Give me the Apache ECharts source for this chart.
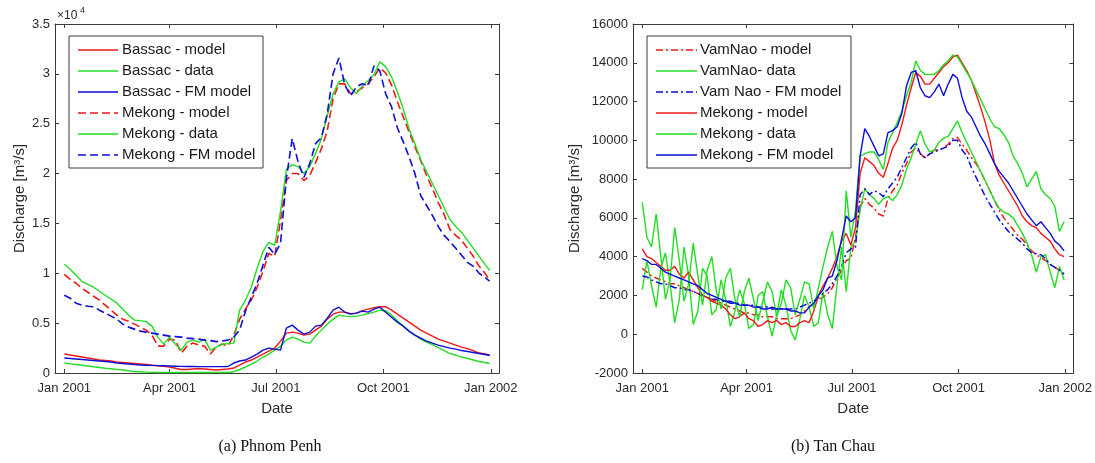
<!DOCTYPE html>
<html>
<head>
<meta charset="utf-8">
<script src="https://cdn.jsdelivr.net/npm/echarts@6/dist/echarts.min.js"></script>
<style>
  html, body { margin: 0; padding: 0; background: #ffffff; }
  #chart { width: 1095px; height: 463px; }
</style>
</head>
<body>
<div id="chart"></div>
<script>
// ---- date ticks shared by both panels ----
const tickDates = ['2001-01-01', '2001-04-01', '2001-07-01', '2001-10-01', '2002-01-01'];
const tickLabels = ['Jan 2001', 'Apr 2001', 'Jul 2001', 'Oct 2001', 'Jan 2002'];

// ---- (a) Phnom Penh: day of year (from 1 Jan 2001) and discharge, m3/s ----
const daysPP = [0,5,10,15,20,25,30,35,40,45,50,55,60,65,70,75,80,85,90,95,
  100,105,110,115,120,125,130,135,140,145,150,155,160,165,170,175,180,185,190,195,
  200,205,210,215,220,225,230,235,240,245,250,255,260,265,270,275,280,285,290,295,
  300,305,310,315,320,325,330,335,340,345,350,355,360,364];

const bassacModel = [1900,1800,1700,1600,1500,1400,1300,1250,1200,1100,
  1050,1000,950,900,850,780,720,660,600,480,
  350,350,400,450,400,350,300,350,400,500,
  800,1100,1300,1600,1900,2200,2500,3200,4000,4100,
  4000,3800,3900,4300,4700,5400,5900,6100,6100,5950,
  6000,6250,6400,6550,6650,6650,6300,5900,5500,5100,
  4700,4300,4000,3700,3400,3200,3000,2800,2600,2450,
  2250,2000,1900,1800];

const bassacData = [1000,920,850,780,700,620,550,480,420,360,
  300,230,150,120,90,60,50,50,50,50,
  50,50,50,50,50,50,50,50,50,130,
  350,600,900,1200,1600,1900,2300,2700,3300,3600,
  3400,3100,3000,3700,4300,4900,5400,5800,5700,5650,
  5700,5800,5950,6100,6300,6250,5800,5250,4700,4200,
  3800,3400,3100,2850,2550,2250,1950,1800,1600,1450,
  1300,1150,1050,950];

const bassacFM = [1500,1450,1400,1350,1300,1250,1200,1150,1100,1000,
  950,900,850,800,780,760,740,720,700,680,
  660,650,650,640,640,640,640,640,650,1000,
  1200,1300,1600,1900,2300,2500,2400,2300,4500,4800,
  4300,3900,4100,4700,4800,5500,6300,6600,6100,5900,
  6000,6200,6100,6400,6600,6100,5600,5100,4700,4200,
  3800,3500,3200,3000,2800,2650,2500,2400,2250,2150,
  2050,1950,1850,1750];

const mekongModelPP = [9900,9400,9000,8500,8100,7700,7300,6800,6300,5800,
  5400,5200,4900,4600,4300,3800,2700,2700,3400,3300,
  2000,2700,3000,2800,2700,1900,2600,2900,2700,3800,
  5400,6400,7300,8600,10200,12000,11700,15300,19300,20000,
  20000,19300,19800,21100,22500,24300,27500,29000,29000,28000,
  28200,28600,29000,29700,30600,30100,28900,27200,25700,24200,
  22700,21300,19800,18500,17100,15900,14400,13800,13300,12500,
  11700,10700,10000,9300];

const mekongDataPP = [10900,10400,9800,9200,8900,8600,8200,7800,7400,7000,
  6400,5800,5300,5250,5150,4700,3600,2900,3600,2900,
  2300,3100,3300,3100,3400,2300,2600,2900,2950,3000,
  6300,7300,8600,10500,12200,13100,12800,16200,20400,20900,
  20700,20000,20700,22000,23500,25800,28000,29200,29500,28600,
  28000,28800,29300,29900,31200,30700,29700,28200,26500,24500,
  23000,21400,20200,19000,17800,16600,15400,14700,14100,13300,
  12500,11700,10900,10300];

const mekongFMPP = [7800,7500,7000,6800,6700,6650,6300,6000,5700,5400,
  4900,4600,4400,4200,4100,4000,3900,3800,3700,3650,
  3600,3500,3450,3400,3300,3250,3150,3200,3300,3600,
  4300,6200,7600,9000,10800,12600,11900,13000,19500,23500,
  21200,19600,21000,23000,23600,26000,30000,31600,28900,27800,
  28700,29000,28800,30800,30300,28000,26700,24600,23200,21700,
  20000,17800,16800,15800,14700,13800,13200,12500,11800,11100,
  10700,10000,9600,9200];

const namesPP = ['Bassac - model', 'Bassac - data', 'Bassac - FM model',
  'Mekong - model', 'Mekong - data', 'Mekong - FM model'];

// ---- (b) Tan Chau: day of year and discharge, m3/s ----
const daysTC = [0,4,8,12,16,20,24,28,32,36,40,44,48,52,56,60,64,68,72,76,
  80,84,88,92,96,100,104,108,112,116,120,124,128,132,136,140,144,148,152,156,
  160,164,168,172,176,180,184,188,192,196,200,204,208,212,216,220,224,228,232,236,
  240,244,248,252,256,260,264,268,272,276,280,284,288,292,296,300,304,308,312,316,
  320,324,328,332,336,340,344,348,352,356,360,364];

const vamNaoModel = [3400,3200,3000,2900,2800,2700,2600,2600,2500,2400,
  2300,2200,2100,2000,1900,1800,1700,1600,1500,1400,
  1300,1200,1100,1100,1000,1000,900,900,900,800,
  800,800,800,900,1000,1200,1400,1600,1800,1900,
  2100,2400,2900,3300,3800,3900,5000,6600,7000,6700,
  6500,6200,6100,7000,7400,7700,8300,8800,9400,9600,
  9300,9100,9300,9500,9500,9600,9800,10100,10150,9800,
  9500,9100,8800,8400,7900,7400,6900,6400,6000,5700,
  5400,5100,4900,4600,4300,4100,3950,3800,3600,3450,
  3300,3100];

const vamNaoData = [2300,3800,2500,1400,3400,4200,2600,600,1800,4500,
  3000,500,1200,3400,3000,1000,1300,2800,1800,400,
  1200,2300,1600,300,500,2000,2200,900,-100,1000,
  2300,1500,200,-300,800,2000,1400,400,600,2200,
  1000,300,2500,4500,2200,4500,4800,6400,7500,7200,
  7000,6700,7000,7100,6900,7200,7700,8500,9100,9800,
  10500,9800,9400,9500,9900,10100,10200,10600,11000,10400,
  9900,9400,8900,8400,7900,7400,6900,6500,6300,6200,
  6000,5600,5200,4700,4100,3200,4000,4100,3200,2400,
  3500,2800];

const vamNaoFM = [3000,2950,2800,2700,2600,2600,2500,2400,2400,2300,
  2300,2200,2100,2000,1900,1800,1800,1700,1700,1600,
  1600,1600,1500,1500,1500,1400,1400,1400,1300,1300,
  1300,1300,1300,1300,1400,1500,1600,1700,1900,2100,
  2300,2600,3000,3500,4200,4400,4500,7200,7500,7200,
  7400,7300,7100,7500,7800,8100,8600,9100,9600,9900,
  9300,9100,9300,9400,9500,9600,9700,10000,10000,9500,
  9200,8600,8100,7600,7100,6700,6300,5900,5600,5300,
  5100,4900,4700,4400,4200,4150,4100,3900,3600,3450,
  3300,3100];

const mekongModelTC = [4400,4000,3900,3700,3500,3300,3300,3500,3100,2900,
  3200,2800,2400,2000,1900,1700,1600,1500,1300,1000,
  800,900,1100,800,700,400,500,700,600,700,
  500,600,400,400,600,700,600,1200,2000,2500,
  2900,3400,4000,4800,5200,4600,5500,8300,9100,8900,
  8700,8300,8100,8800,9600,10000,10800,11800,12700,13500,
  13300,12900,12900,13200,13500,13800,14000,14300,14400,14000,
  13600,13100,12400,11700,10900,10000,8800,8200,7800,7400,
  7000,6600,6100,5800,5600,5500,5200,5000,4800,4400,
  4100,4000];

const mekongDataTC = [6800,5000,4500,6200,4000,1800,2800,5500,3800,1700,
  2600,4700,3000,1500,3300,4000,2200,1300,2900,3400,
  1800,900,2200,2900,1800,700,1700,2700,2200,900,
  1600,2800,2400,1000,1800,2700,2600,1300,2400,3500,
  4500,5300,3500,2800,7400,5000,6400,9200,9300,9400,
  9400,9000,8500,9900,10400,10900,11500,12300,13000,14100,
  13600,13400,13400,13400,13600,13900,14100,14400,14300,13900,
  13500,13100,12600,12100,11600,11100,10700,10600,10300,9900,
  9200,8800,8300,7600,8000,8400,7500,7200,7000,6600,
  5300,5800];

const mekongFMTC = [3900,3800,3600,3600,3400,3200,3100,3000,2900,2800,
  2700,2600,2500,2300,2100,2000,1900,1800,1700,1700,
  1600,1500,1500,1500,1400,1400,1300,1300,1400,1300,
  1300,1300,1200,1200,1100,1100,1400,1600,2000,2300,
  2900,3000,3800,4900,6100,5800,6000,9200,10600,10200,
  9700,9200,9300,10400,10500,10700,11400,12800,13500,13600,
  12700,12300,12200,12500,12900,12300,12900,13400,13200,12200,
  11500,11200,10700,10200,9800,9300,8800,8400,8100,7800,
  7400,7000,6600,6200,5900,5600,5800,5500,5200,4800,
  4600,4300];

const namesTC = ['VamNao - model', 'VamNao- data', 'Vam Nao - FM model',
  'Mekong - model', 'Mekong - data', 'Mekong - FM model'];

// ---- styling ----
const RED = '#f01818', GREEN = '#22dd22', BLUE = '#0d0dd8';
const AXIS = '#3a3a3a', TEXT = '#2a2a2a';
const SANS = '"Liberation Sans", Arial, sans-serif';
const DASH = [8, 4], DASHDOT = [7, 3, 2, 3];

const stylesPP = [
  { color: RED, dash: 'solid', width: 1.4 },
  { color: GREEN, dash: 'solid', width: 1.4 },
  { color: BLUE, dash: 'solid', width: 1.4 },
  { color: RED, dash: DASH, width: 1.6 },
  { color: GREEN, dash: 'solid', width: 1.4 },
  { color: BLUE, dash: DASH, width: 1.6 }
];
const stylesTC = [
  { color: RED, dash: DASHDOT, width: 1.5 },
  { color: GREEN, dash: 'solid', width: 1.4 },
  { color: BLUE, dash: DASHDOT, width: 1.5 },
  { color: RED, dash: 'solid', width: 1.4 },
  { color: GREEN, dash: 'solid', width: 1.4 },
  { color: BLUE, dash: 'solid', width: 1.4 }
];

const dayOf = s => (Date.parse(s) - Date.parse('2001-01-01')) / 86400000;
const tickDays = tickDates.map(dayOf);

function pairs(days, vals) { return days.map((d, i) => [d, vals[i]]); }

function xAxesFor(grid) {
  const base = {
    type: 'value', gridIndex: grid, min: -8, max: 372,
    splitLine: { show: false },
    axisLine: { show: true, onZero: false, lineStyle: { color: AXIS, width: 1 } },
    axisTick: { show: true, inside: true, length: 4, customValues: tickDays, lineStyle: { color: AXIS } }
  };
  return [
    Object.assign({}, base, {
      position: 'bottom',
      axisLabel: {
        customValues: tickDays, color: TEXT, fontFamily: SANS, fontSize: 13, margin: 9,
        formatter: v => { const k = tickDays.indexOf(v); return k >= 0 ? tickLabels[k] : ''; }
      },
      name: 'Date', nameLocation: 'middle', nameGap: 28,
      nameTextStyle: { color: TEXT, fontFamily: SANS, fontSize: 15 }
    }),
    Object.assign({}, base, { position: 'top', axisLabel: { show: false } })
  ];
}

function yAxesFor(grid, min, max, step, fmt, nameGap) {
  const base = {
    type: 'value', gridIndex: grid, min: min, max: max, interval: step,
    splitLine: { show: false },
    axisLine: { show: true, onZero: false, lineStyle: { color: AXIS, width: 1 } },
    axisTick: { show: true, inside: true, length: 4, lineStyle: { color: AXIS } }
  };
  return [
    Object.assign({}, base, {
      position: 'left',
      axisLabel: { color: TEXT, fontFamily: SANS, fontSize: 13, margin: 5, formatter: fmt },
      name: 'Discharge [m³/s]', nameLocation: 'middle', nameGap: nameGap,
      nameTextStyle: { color: TEXT, fontFamily: SANS, fontSize: 15 }
    }),
    Object.assign({}, base, { position: 'right', axisLabel: { show: false } })
  ];
}

function seriesFor(names, styles, valueSets, days, xi, yi) {
  return names.map((n, i) => ({
    name: n, type: 'line', xAxisIndex: xi, yAxisIndex: yi,
    data: pairs(days, valueSets[i]),
    showSymbol: false, symbol: 'none', silent: true, z: 2 + i,
    lineStyle: { color: styles[i].color, width: styles[i].width, type: styles[i].dash, cap: 'butt' },
    itemStyle: { color: styles[i].color }
  }));
}

function legendBox(x, y, w, h, lx0, lx1, tx, row0, rowStep, names, styles) {
  const els = [{
    type: 'rect', shape: { x: x, y: y, width: w, height: h },
    style: { fill: '#ffffff', stroke: AXIS, lineWidth: 1 }, z: 100
  }];
  names.forEach((n, i) => {
    const yy = row0 + i * rowStep;
    const s = styles[i];
    els.push({
      type: 'line', shape: { x1: lx0, y1: yy, x2: lx1, y2: yy },
      style: { stroke: s.color, lineWidth: s.width, lineDash: s.dash === 'solid' ? null : s.dash }, z: 101
    });
    els.push({
      type: 'text', x: tx, y: yy, z: 101,
      style: { text: n, fill: '#1a1a1a', font: '15px ' + SANS,
        textAlign: 'left', textVerticalAlign: 'middle', align: 'left', verticalAlign: 'middle' }
    });
  });
  return els;
}

const chart = echarts.init(document.getElementById('chart'), null, { renderer: 'canvas' });

const option = {
  animation: false,
  backgroundColor: '#ffffff',
  grid: [
    { left: 55, top: 24, width: 444, height: 349 },
    { left: 633, top: 24, width: 443, height: 349 }
  ],
  xAxis: xAxesFor(0).concat(xAxesFor(1)),
  yAxis: yAxesFor(0, 0, 35000, 5000, v => String(v / 10000), 28)
    .concat(yAxesFor(1, -2000, 16000, 2000, v => String(v), 51)),
  series: seriesFor(namesPP, stylesPP,
      [bassacModel, bassacData, bassacFM, mekongModelPP, mekongDataPP, mekongFMPP], daysPP, 0, 0)
    .concat(seriesFor(namesTC, stylesTC,
      [vamNaoModel, vamNaoData, vamNaoFM, mekongModelTC, mekongDataTC, mekongFMTC], daysTC, 2, 2)),
  graphic: [].concat(
    legendBox(69, 36, 194, 132, 78, 118, 122, 50, 21, namesPP, stylesPP),
    legendBox(647, 36, 204, 132, 656, 697, 700, 50, 21, namesTC, stylesTC),
    [
      { type: 'text', x: 57, y: 16, z: 100,
        style: { text: '×10', fill: TEXT, font: '12px ' + SANS, textAlign: 'left', textVerticalAlign: 'middle', align: 'left', verticalAlign: 'middle' } },
      { type: 'text', x: 80, y: 11, z: 100,
        style: { text: '4', fill: TEXT, font: '9px ' + SANS, textAlign: 'left', textVerticalAlign: 'middle', align: 'left', verticalAlign: 'middle' } },
      { type: 'text', x: 270, y: 447, z: 100,
        style: { text: '(a) Phnom Penh', fill: '#111111', font: '16px "Liberation Serif", serif', textAlign: 'center', textVerticalAlign: 'middle', align: 'center', verticalAlign: 'middle' } },
      { type: 'text', x: 833, y: 447, z: 100,
        style: { text: '(b) Tan Chau', fill: '#111111', font: '16px "Liberation Serif", serif', textAlign: 'center', textVerticalAlign: 'middle', align: 'center', verticalAlign: 'middle' } }
    ]
  )
};

chart.setOption(option);
</script>
</body>
</html>
